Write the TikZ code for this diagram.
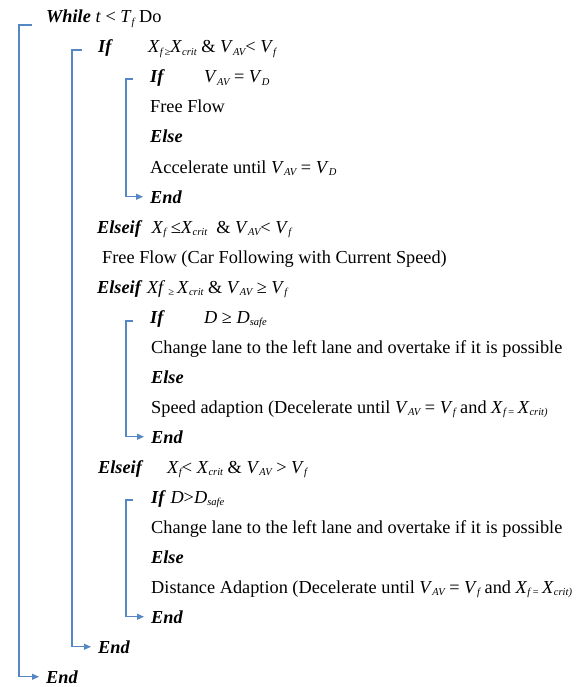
\documentclass[tikz,border=0pt]{standalone}
\usepackage{fontspec}
\setmainfont{Liberation Serif}
\usetikzlibrary{arrows.meta}
\definecolor{AlgoBlue}{RGB}{84,135,196}
\newcommand{\kw}[1]{\textbf{\textit{#1}}}
\newcommand{\sbs}[1]{\raisebox{-0.28ex}{\fontsize{10.5}{11}\selectfont\itshape #1}}
\newcommand{\vr}[2]{\textit{#1}\sbs{#2}}
\tikzset{
  algo text/.style={anchor=base west, inner sep=0pt, font=\fontsize{18.3}{22}\selectfont},
  algo kw/.style={algo text, font=\fontsize{18.3}{22}\selectfont\bfseries\itshape},
  algo brace/.style={draw=AlgoBlue, line width=1.1pt, -{Triangle[length=7pt,width=6pt]}, shorten >=7pt}
}

\begin{document}
\begin{tikzpicture}[x=1pt,y=-1pt]
\useasboundingbox (0,0) rectangle (585,687);
\node[algo text] (while) at (46,23) {\kw{While} \textit{t} < \vr{T}{f} Do};
\node[algo kw] (if1) at (98,53) {If};
\node[algo text] (if1c) at (148,53) {\textit{X}\sbs{f\,≥}\textit{X}\sbs{crit} \& \vr{V}{AV}< \vr{V}{f}};
\node[algo kw] (if2) at (150,83) {If};
\node[algo text] (if2c) at (204,83) {\vr{V}{AV} = \vr{V}{D}};
\node[algo text] (free1) at (150,113) {Free Flow};
\node[algo kw] (else2) at (150,143) {Else};
\node[algo text] (acc) at (150,173) {Accelerate until \vr{V}{AV} = \vr{V}{D}};
\node[algo kw] (end3) at (150,203) {End};
\node[algo text] (elif1) at (97,233) {\kw{Elseif}\ \ \vr{X}{f} ≤\vr{X}{crit}\ \ \& \vr{V}{AV}< \vr{V}{f}};
\node[algo text] (free2) at (102,263) {Free Flow (Car Following with Current Speed)};
\node[algo text] (elif2) at (97,293) {\kw{Elseif} \textit{Xf}\,\sbs{≥}\,\vr{X}{crit} \& \vr{V}{AV} ≥ \vr{V}{f}};
\node[algo kw] (if4) at (150,323) {If};
\node[algo text] (if4c) at (204,323) {\textit{D} ≥ \vr{D}{safe}};
\node[algo text] (lane1) at (151,353) {Change lane to the left lane and overtake if it is possible};
\node[algo kw] (else4) at (151,383) {Else};
\node[algo text] (speed) at (151,413) {Speed adaption (Decelerate until \vr{V}{AV} = \vr{V}{f} and \textit{X}\sbs{f\,=}\,\textit{X}\sbs{crit)}};
\node[algo kw] (end4) at (151,443) {End};
\node[algo kw] (elif3) at (98,473) {Elseif};
\node[algo text] (elif3c) at (167,473) {\vr{X}{f}< \vr{X}{crit} \& \vr{V}{AV} > \vr{V}{f}};
\node[algo text] (if5) at (151,503) {\kw{If} \textit{D}>\vr{D}{safe}};
\node[algo text] (lane2) at (151,533) {Change lane to the left lane and overtake if it is possible};
\node[algo kw] (else5) at (151,563) {Else};
\node[algo text] (dist) at (151,593) {Distance Adaption (Decelerate until \vr{V}{AV} = \vr{V}{f} and \textit{X}\sbs{f\,=}\,\textit{X}\sbs{crit)}};
\node[algo kw] (end5) at (151,623) {End};
\node[algo kw] (end2) at (98,653) {End};
\node[algo kw] (end1) at (46,683) {End};
\coordinate (b1) at (19,25);
\coordinate (b2) at (72,50);
\coordinate (b3) at (126,79);
\coordinate (b4) at (126,321);
\coordinate (b5) at (126,500);
\draw[algo brace] (b1) ++(13,0) -- (b1) |- (end1);
\draw[algo brace] (b2) ++(10,0) -- (b2) |- (end2);
\draw[algo brace] (b3) ++(7,0) -- (b3) |- (end3);
\draw[algo brace] (b4) ++(7,0) -- (b4) |- (end4);
\draw[algo brace] (b5) ++(7,0) -- (b5) |- (end5);
\end{tikzpicture}
\end{document}
